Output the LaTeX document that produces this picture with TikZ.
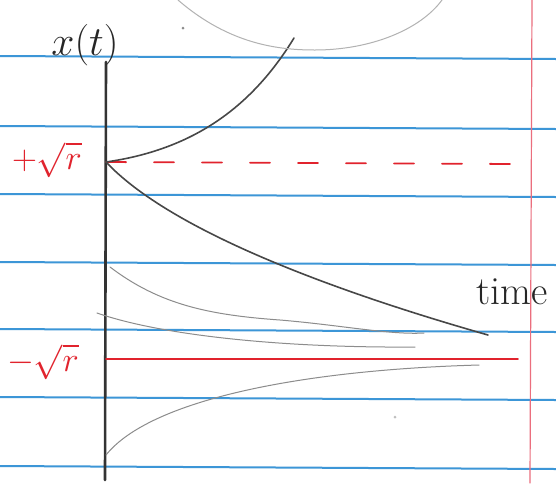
\documentclass[tikz,border=0pt]{standalone}
\usetikzlibrary{positioning}
\definecolor{ruleblue}{RGB}{60,150,215}
\definecolor{marginred}{RGB}{235,110,125}
\definecolor{inkred}{RGB}{225,35,45}
\begin{document}
\begin{tikzpicture}[x=0.5pt,y=-0.5pt,line cap=round,
ruled/.style={ruleblue,line width=1pt},
traj/.style={line width=0.8pt,black!72},
faint/.style={line width=0.5pt,black!45},
fixpt/.style={inkred,line width=0.9pt},
lbl/.style={inkred,font=\fontsize{18}{20}\selectfont},
ink/.style={black!85,font=\fontsize{20}{22}\selectfont}]
\useasboundingbox (0,0) rectangle (556,483);
\fill[white] (0,0) rectangle (556,483);
% ruled paper
\foreach \y in {56,126,194,262,329,397,466}
  \draw[ruled] (0,\y) -- (556,\y+3);
\draw[marginred,line width=0.6pt] (532,0) -- (530,483);
% axis and fixed points
\coordinate (top) at (106,62);
\coordinate (bot) at (105,480);
\coordinate (plus) at (106,162);
\coordinate (minus) at (106,359);
\draw[black!80,line width=1.3pt] (top) -- (bot);
\node[ink] (xlab) at (85,45) {$x(t)$};
\node[ink] (tlab) at (512,292) {time};
\node[lbl] (lplus) at (47,160) {$+\sqrt{r}$};
\node[lbl] (lminus) at (43,362) {$-\sqrt{r}$};
\draw[fixpt,dash pattern=on 10pt off 14pt] (plus) -- (514,164);
\draw[fixpt] (minus) -- (518,359);
% trajectories
\draw[traj] (plus) .. controls (190,150) and (250,110) .. (294,38);
\draw[traj] (plus) .. controls (170,230) and (330,290) .. (488,335);
\draw[faint] (110,267) .. controls (160,305) and (210,315) .. (280,320)
  .. controls (340,325) and (390,335) .. (424,333);
\draw[faint] (97,313) .. controls (160,335) and (280,348) .. (415,347);
\draw[faint] (106,455) .. controls (150,400) and (300,370) .. (479,365);
% arc at the top
\draw[black!30,line width=0.5pt] (178,0) .. controls (230,45) and (280,50) .. (315,50)
  .. controls (370,50) and (420,30) .. (442,0);
\fill[black!45] (183,28) circle (1.5);
\fill[black!25] (395,417) circle (1.5);
\end{tikzpicture}
\end{document}
